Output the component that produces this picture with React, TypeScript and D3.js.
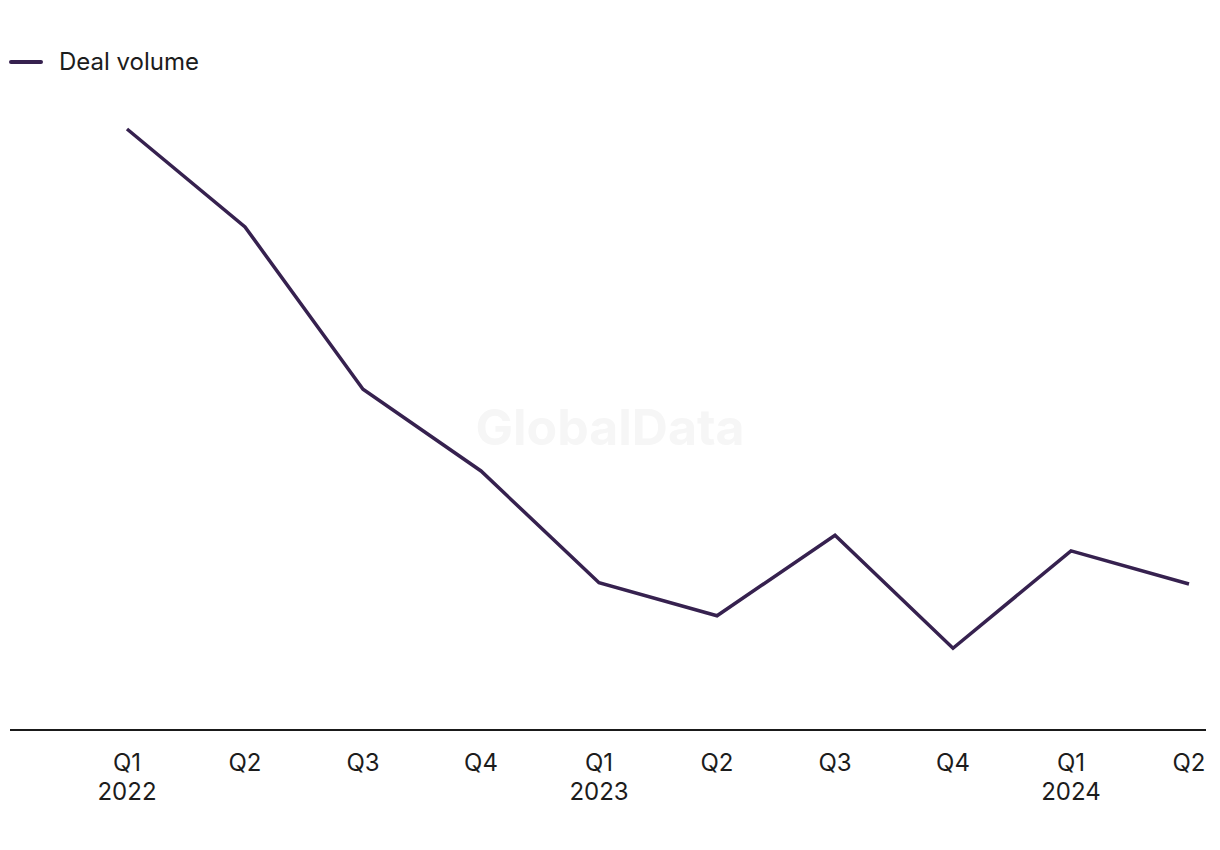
import React, { useRef, useEffect } from 'react';
import * as d3 from 'd3';

const quarters = ['Q1', 'Q2', 'Q3', 'Q4', 'Q1', 'Q2', 'Q3', 'Q4', 'Q1', 'Q2'];
const years = ['2022', '', '', '', '2023', '', '', '', '2024', ''];
const dealVolume = [100, 83.7, 56.7, 43.1, 24.5, 19.0, 32.4, 13.6, 29.8, 24.3];

const LINE_COLOR = '#36214f';
const FONT = 'Inter, "Noto Sans", sans-serif';

function App() {
    const ref = useRef<SVGSVGElement | null>(null);

    useEffect(() => {
        const width = 1220;
        const height = 850;
        const svg = d3.select(ref.current);
        svg.selectAll('*').remove();

        const x = d3.scalePoint<number>()
            .domain(d3.range(quarters.length))
            .range([127, 1189]);

        const y = d3.scaleLinear()
            .domain([0, 100])
            .range([730, 129]);

        // watermark
        svg.append('text')
            .attr('x', 610)
            .attr('y', 445)
            .attr('text-anchor', 'middle')
            .attr('font-family', FONT)
            .attr('font-weight', 700)
            .attr('font-size', 50)
            .attr('fill', '#f6f6f6')
            .text('GlobalData');

        // legend
        svg.append('line')
            .attr('x1', 11).attr('x2', 41)
            .attr('y1', 62).attr('y2', 62)
            .attr('stroke', LINE_COLOR)
            .attr('stroke-width', 4)
            .attr('stroke-linecap', 'round');
        svg.append('text')
            .attr('x', 59)
            .attr('y', 70)
            .attr('font-family', FONT)
            .attr('font-size', 24)
            .attr('fill', '#1c1c1c')
            .text('Deal volume');

        // baseline
        svg.append('line')
            .attr('x1', 10).attr('x2', 1206)
            .attr('y1', y(0)).attr('y2', y(0))
            .attr('stroke', '#1a1a1a')
            .attr('stroke-width', 2);

        // tick labels
        const ticks = svg.append('g')
            .attr('font-family', FONT)
            .attr('font-size', 24)
            .attr('fill', '#1c1c1c')
            .attr('text-anchor', 'middle');
        quarters.forEach((q, i) => {
            ticks.append('text')
                .attr('x', x(i))
                .attr('y', 771)
                .text(q);
            if (years[i]) {
                ticks.append('text')
                    .attr('x', x(i))
                    .attr('y', 800)
                    .text(years[i]);
            }
        });

        const line = d3.line<number>()
            .x((d, i) => x(i) as number)
            .y(d => y(d));

        svg.append('path')
            .datum(dealVolume)
            .attr('fill', 'none')
            .attr('stroke', LINE_COLOR)
            .attr('stroke-width', 3.5)
            .attr('stroke-linejoin', 'miter')
            .attr('d', line);

        svg.attr('width', width).attr('height', height);
    }, []);

    return (
        <svg
            ref={ref}
            width={1220}
            height={850}
            style={{ position: 'absolute', left: 0, top: 0, background: '#ffffff' }}
        />
    );
}

export default App;
